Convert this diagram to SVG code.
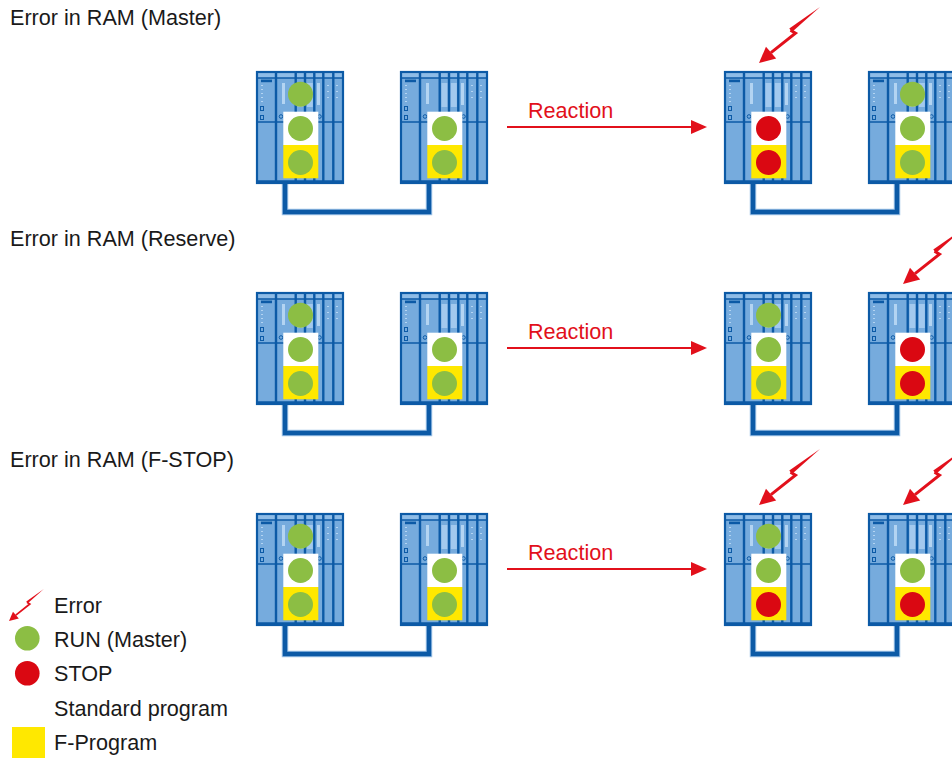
<svg xmlns="http://www.w3.org/2000/svg" xmlns:xlink="http://www.w3.org/1999/xlink" width="952" height="758" viewBox="0 0 952 758">
  <style>
    text { font-family: "Liberation Sans", Arial, sans-serif; font-size: 21.6px; fill: #1a1a1a; }
    .react { fill: #e2101b; }
    .run { fill: #8cbe44; }
    .stop { fill: #da0812; }
    .std { fill: #ffffff; }
    .fprog { fill: #ffe800; }
    .bus { fill: none; stroke-linejoin: miter; }
    .bus-halo { stroke: #9cc2e6; stroke-width: 6.5; }
    .bus-line { stroke: #0c5aa6; stroke-width: 4.5; }
    .arrow-line { stroke: #e2101b; stroke-width: 2; }
    .arrow-head { fill: #e2101b; }
  </style>
  <defs>
    <!-- S7 rack: CPU module plus I/O modules, drawn from its top-left corner -->
    <g id="rack">
      <rect x="0" y="0" width="86" height="111" fill="#76abdd"/>
      <rect x="0" y="0" width="86" height="6" fill="#8ebce7"/>
      <!-- light panels on the modules -->
      <rect x="40.5" y="11" width="6" height="24" fill="#a3c9ee"/>
      <rect x="49.8" y="11" width="6" height="24" fill="#a3c9ee"/>
      <rect x="25" y="11" width="3" height="21" fill="#b3d4f2"/>
      <rect x="60" y="11" width="3" height="22" fill="#b3d4f2"/>
      <!-- LED dashes -->
      <g fill="#b3d4f2">
        <rect x="4" y="13" width="2" height="1"/>
        <rect x="4" y="17" width="2" height="1"/>
        <rect x="4" y="21" width="2" height="1"/>
        <rect x="4" y="25" width="2" height="1"/>
        <rect x="4" y="29" width="2" height="1"/>
        <rect x="70" y="13" width="2" height="1"/>
        <rect x="70" y="19" width="2" height="1"/>
        <rect x="70" y="25" width="2" height="1"/>
        <rect x="79" y="13" width="2" height="1"/>
        <rect x="79" y="19" width="2" height="1"/>
        <rect x="79" y="25" width="2" height="1"/>
      </g>
      <!-- CPU label bar and connectors -->
      <rect x="4" y="7.6" width="11" height="2.6" fill="#0c5aa6"/>
      <g fill="none" stroke="#0c5aa6" stroke-width="1">
        <rect x="3.5" y="34.5" width="3" height="4"/>
        <rect x="3.5" y="43.5" width="3" height="4"/>
        <circle cx="24" cy="44.5" r="1.8"/>
        <circle cx="62.5" cy="44.5" r="1.8"/>
      </g>
      <!-- frame, band lines and module dividers -->
      <g stroke="#0c5aa6" fill="none">
        <rect x="0" y="0" width="86" height="111" stroke-width="2.2"/>
        <line x1="0" y1="6" x2="86" y2="6" stroke-width="1.3"/>
        <line x1="0" y1="50" x2="86" y2="50" stroke-width="1.3"/>
        <line x1="0" y1="109.5" x2="86" y2="109.5" stroke-width="2.5"/>
        <line x1="19" y1="0" x2="19" y2="111" stroke-width="2.4"/>
        <line x1="38.7" y1="0" x2="38.7" y2="111" stroke-width="2.4"/>
        <line x1="48" y1="0" x2="48" y2="111" stroke-width="2.4"/>
        <line x1="57.3" y1="0" x2="57.3" y2="111" stroke-width="2.4"/>
        <line x1="66.3" y1="0" x2="66.3" y2="111" stroke-width="2.4"/>
        <line x1="76.3" y1="0" x2="76.3" y2="111" stroke-width="2.4"/>
      </g>
    </g>
    <!-- program memory blocks: standard (white) over F-program (yellow) -->
    <g id="mem">
      <rect x="26.3" y="39.7" width="35" height="33.3" class="std"/>
      <rect x="26.3" y="73" width="35" height="33.3" class="fprog"/>
    </g>
    <!-- lightning arrow, tip at the origin -->
    <g id="bolt" fill="#e2101b">
      <polygon points="61,-56 30.3,-34.4 33,-31.1"/>
      <polyline points="31.5,-32.8 36.5,-29.8 12,-10.3" fill="none" stroke="#e2101b" stroke-width="3" stroke-linejoin="miter"/>
      <polygon points="0,0 17.2,-4.6 7,-16.3"/>
    </g>
  </defs>

  <!-- row headings -->
  <text x="10" y="25">Error in RAM (Master)</text>
  <text x="10" y="246">Error in RAM (Reserve)</text>
  <text x="10" y="467">Error in RAM (F-STOP)</text>

  <!-- synchronisation links between the two CPUs of each pair -->
  <g id="connectors" class="bus">
    <g class="bus bus-halo">
      <path d="M285,183 V212 H429 V183"/>
      <path d="M753,183 V212 H897 V183"/>
      <path d="M285,404 V433 H429 V404"/>
      <path d="M753,404 V433 H897 V404"/>
      <path d="M285,625 V654 H429 V625"/>
      <path d="M753,625 V654 H897 V625"/>
    </g>
    <g class="bus bus-line">
      <path d="M285,183 V212 H429 V183"/>
      <path d="M753,183 V212 H897 V183"/>
      <path d="M285,404 V433 H429 V404"/>
      <path d="M753,404 V433 H897 V404"/>
      <path d="M285,625 V654 H429 V625"/>
      <path d="M753,625 V654 H897 V625"/>
    </g>
    <!-- reaction arrows -->
    <g>
      <line class="arrow-line" x1="507" y1="127" x2="693" y2="127"/>
      <polygon class="arrow-head" points="691,120 707,127 691,134"/>
      <line class="arrow-line" x1="507" y1="348" x2="693" y2="348"/>
      <polygon class="arrow-head" points="691,341 707,348 691,355"/>
      <line class="arrow-line" x1="507" y1="569" x2="693" y2="569"/>
      <polygon class="arrow-head" points="691,562 707,569 691,576"/>
    </g>
  </g>

  <text class="react" x="528" y="118">Reaction</text>
  <text class="react" x="528" y="339">Reaction</text>
  <text class="react" x="528" y="560">Reaction</text>

  <!-- Row 1: error in the master -->
  <g id="r1-master" transform="translate(257,72)">
    <use href="#rack"/><use href="#mem"/>
    <circle class="run" cx="43.5" cy="22.2" r="12.5"/>
    <circle class="run" cx="43.5" cy="56.5" r="12.5"/>
    <circle class="run" cx="43.5" cy="90.5" r="12.5"/>
  </g>
  <g id="r1-reserve" transform="translate(401,72)">
    <use href="#rack"/><use href="#mem"/>
    <circle class="run" cx="43.5" cy="56.5" r="12.5"/>
    <circle class="run" cx="43.5" cy="90.5" r="12.5"/>
  </g>
  <g id="r1-master-after" transform="translate(725,72)">
    <use href="#rack"/><use href="#mem"/>
    <circle class="stop" cx="43.5" cy="56.5" r="12.5"/>
    <circle class="stop" cx="43.5" cy="90.5" r="12.5"/>
    <use href="#bolt" transform="translate(34,-9)"/>
  </g>
  <g id="r1-reserve-after" transform="translate(869,72)">
    <use href="#rack"/><use href="#mem"/>
    <circle class="run" cx="43.5" cy="22.2" r="12.5"/>
    <circle class="run" cx="43.5" cy="56.5" r="12.5"/>
    <circle class="run" cx="43.5" cy="90.5" r="12.5"/>
  </g>

  <!-- Row 2: error in the reserve -->
  <g id="r2-master" transform="translate(257,293)">
    <use href="#rack"/><use href="#mem"/>
    <circle class="run" cx="43.5" cy="22.2" r="12.5"/>
    <circle class="run" cx="43.5" cy="56.5" r="12.5"/>
    <circle class="run" cx="43.5" cy="90.5" r="12.5"/>
  </g>
  <g id="r2-reserve" transform="translate(401,293)">
    <use href="#rack"/><use href="#mem"/>
    <circle class="run" cx="43.5" cy="56.5" r="12.5"/>
    <circle class="run" cx="43.5" cy="90.5" r="12.5"/>
  </g>
  <g id="r2-master-after" transform="translate(725,293)">
    <use href="#rack"/><use href="#mem"/>
    <circle class="run" cx="43.5" cy="22.2" r="12.5"/>
    <circle class="run" cx="43.5" cy="56.5" r="12.5"/>
    <circle class="run" cx="43.5" cy="90.5" r="12.5"/>
  </g>
  <g id="r2-reserve-after" transform="translate(869,293)">
    <use href="#rack"/><use href="#mem"/>
    <circle class="stop" cx="43.5" cy="56.5" r="12.5"/>
    <circle class="stop" cx="43.5" cy="90.5" r="12.5"/>
    <use href="#bolt" transform="translate(34,-9)"/>
  </g>

  <!-- Row 3: error in the F-program -->
  <g id="r3-master" transform="translate(257,514)">
    <use href="#rack"/><use href="#mem"/>
    <circle class="run" cx="43.5" cy="22.2" r="12.5"/>
    <circle class="run" cx="43.5" cy="56.5" r="12.5"/>
    <circle class="run" cx="43.5" cy="90.5" r="12.5"/>
  </g>
  <g id="r3-reserve" transform="translate(401,514)">
    <use href="#rack"/><use href="#mem"/>
    <circle class="run" cx="43.5" cy="56.5" r="12.5"/>
    <circle class="run" cx="43.5" cy="90.5" r="12.5"/>
  </g>
  <g id="r3-master-after" transform="translate(725,514)">
    <use href="#rack"/><use href="#mem"/>
    <circle class="run" cx="43.5" cy="22.2" r="12.5"/>
    <circle class="run" cx="43.5" cy="56.5" r="12.5"/>
    <circle class="stop" cx="43.5" cy="90.5" r="12.5"/>
    <use href="#bolt" transform="translate(34,-9)"/>
  </g>
  <g id="r3-reserve-after" transform="translate(869,514)">
    <use href="#rack"/><use href="#mem"/>
    <circle class="run" cx="43.5" cy="56.5" r="12.5"/>
    <circle class="stop" cx="43.5" cy="90.5" r="12.5"/>
    <use href="#bolt" transform="translate(34,-9)"/>
  </g>

  <!-- legend -->
  <g id="legend">
    <use href="#bolt" transform="translate(9,621) scale(0.57)"/>
    <text x="54" y="613">Error</text>
    <circle class="run" cx="27.3" cy="638.3" r="12.3"/>
    <text x="54" y="647">RUN (Master)</text>
    <circle class="stop" cx="27.3" cy="673.3" r="12.3"/>
    <text x="54" y="681">STOP</text>
    <text x="54" y="716">Standard program</text>
    <rect class="fprog" x="12" y="727" width="33" height="31"/>
    <text x="54" y="750">F-Program</text>
  </g>
</svg>
